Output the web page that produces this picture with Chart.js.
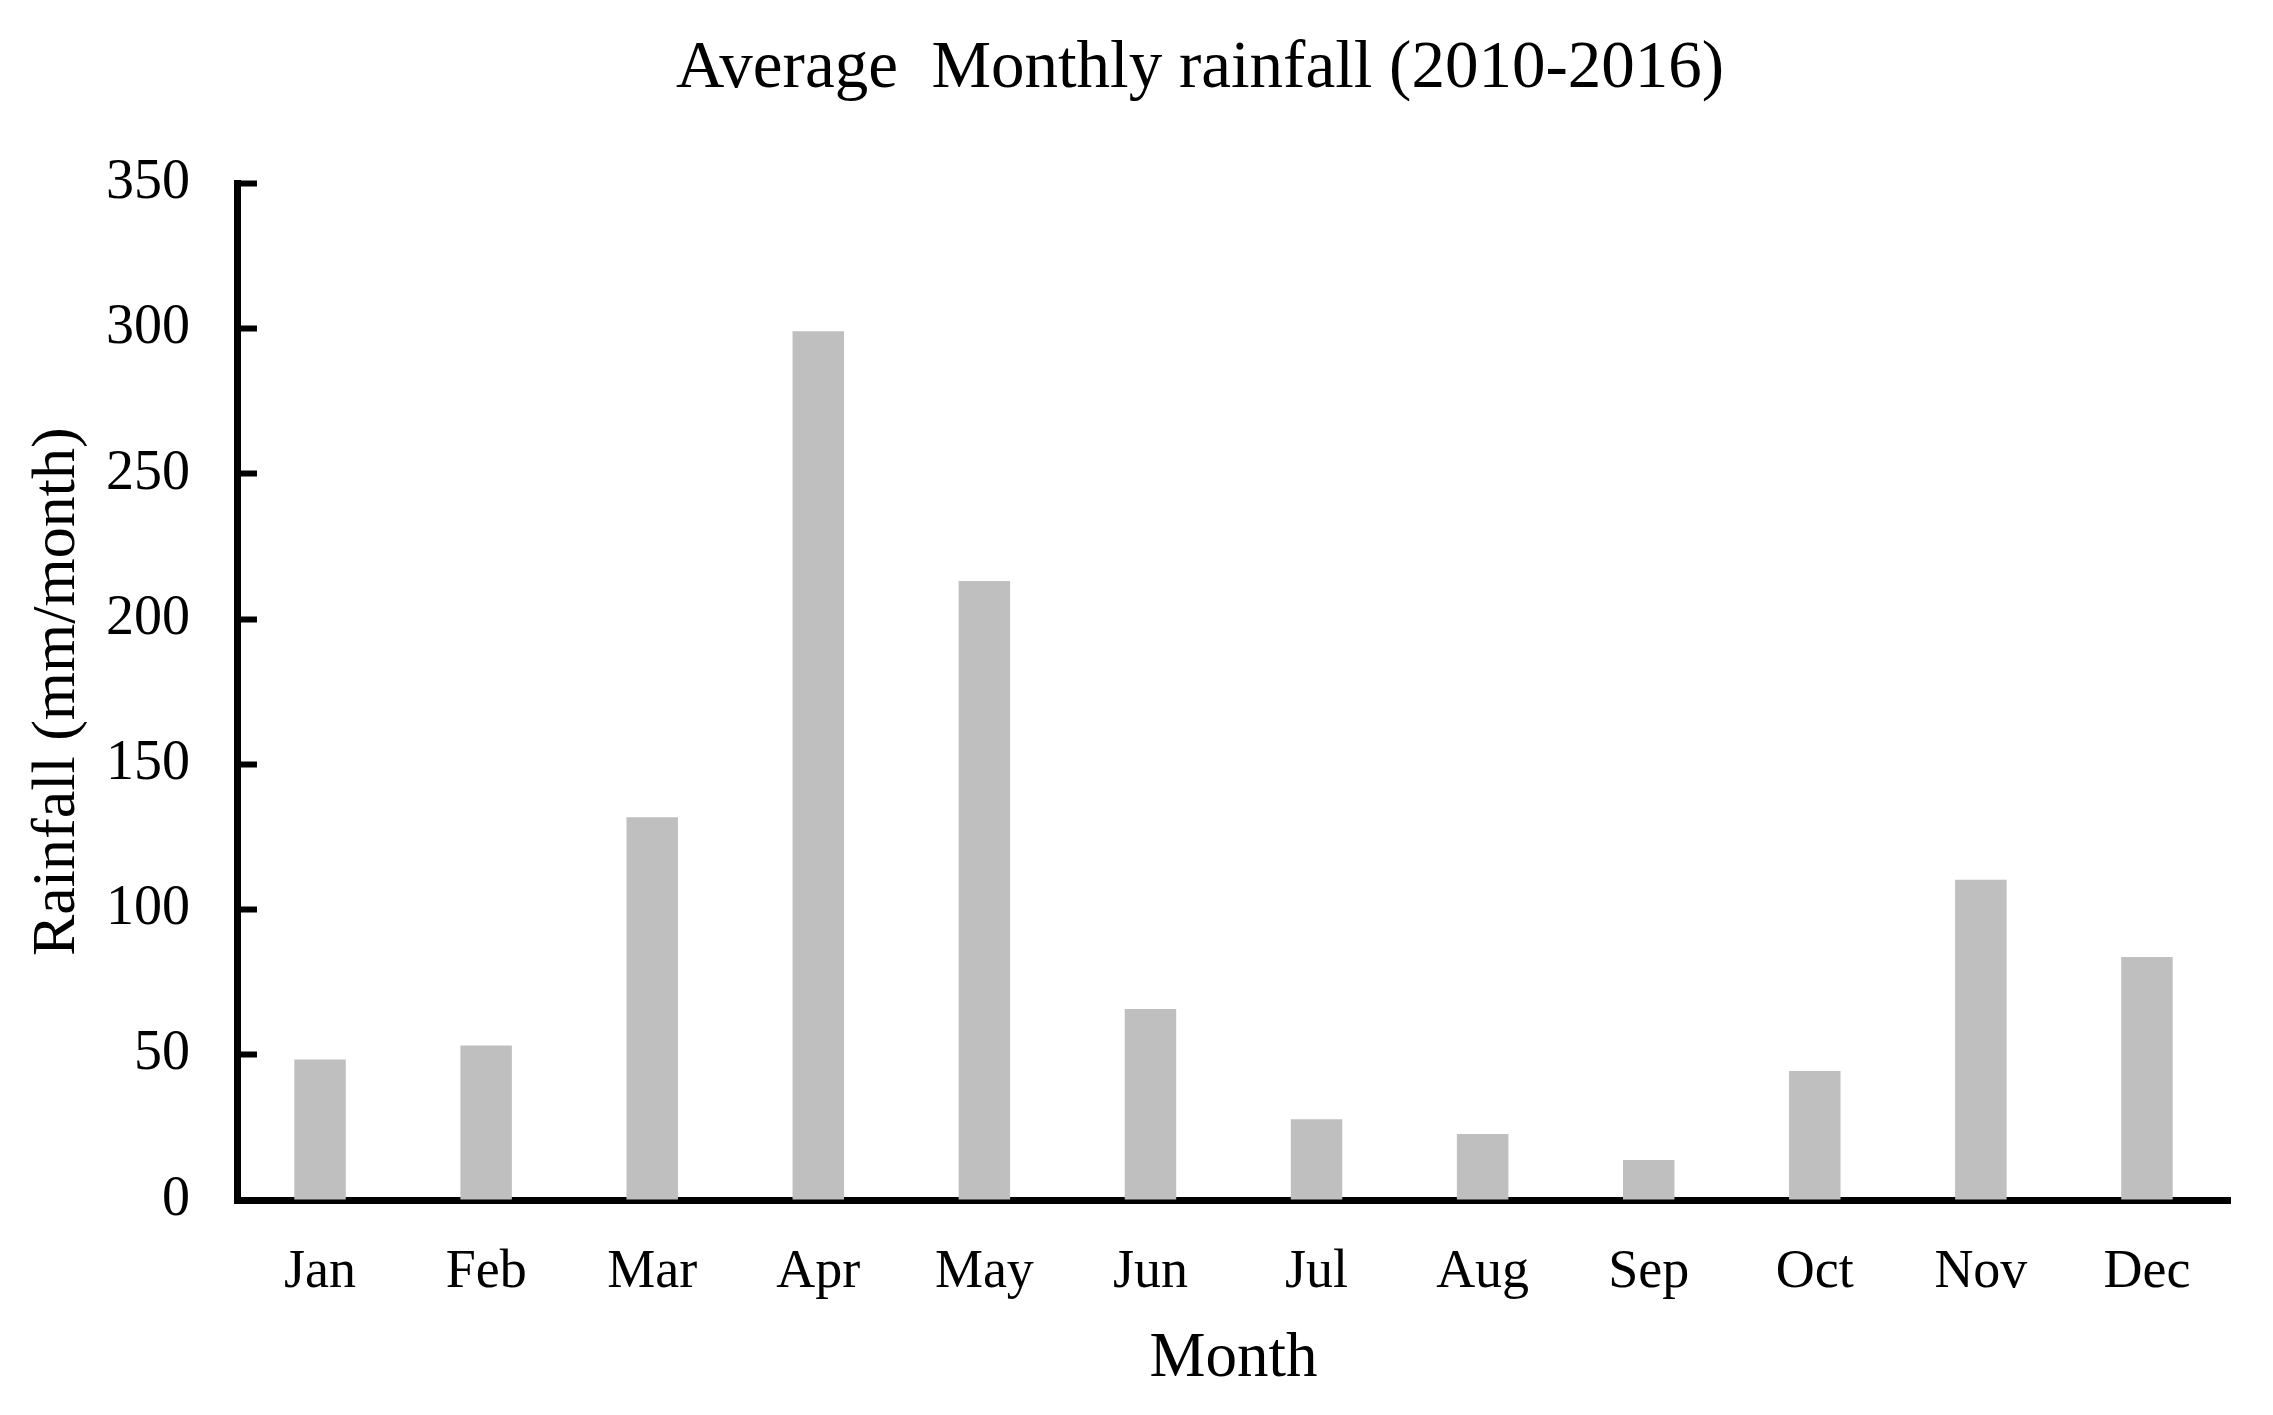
<!DOCTYPE html>
<html>
<head>
<meta charset="utf-8">
<script src="https://cdn.jsdelivr.net/npm/chart.js@4"></script>
<style>
    html, body { margin: 0; padding: 0; background: #fff; }
    #wrap { width: 2273px; height: 1415px; }
</style>
</head>
<body>
<div id="wrap"><canvas id="rainfallChart"></canvas></div>
<script>
const months = ['Jan', 'Feb', 'Mar', 'Apr', 'May', 'Jun', 'Jul', 'Aug', 'Sep', 'Oct', 'Nov', 'Dec'];
const rainfall = [48.4, 53.2, 131.8, 299.1, 213.1, 65.8, 27.8, 22.7, 13.8, 44.4, 110.3, 83.7];
const yTicks = [0, 50, 100, 150, 200, 250, 300, 350];

const serif = 'Liberation Serif, Times New Roman, serif';

document.addEventListener('DOMContentLoaded', function() {
    const ctx = document.getElementById('rainfallChart').getContext('2d');

    new Chart(ctx, {
        type: 'bar',
        data: {
            labels: months,
            datasets: [{
                label: 'Rainfall',
                data: rainfall,
                backgroundColor: '#bfbfbf',
                borderWidth: 0,
                categoryPercentage: 1,
                barPercentage: 0.31
            }]
        },
        options: {
            responsive: true,
            maintainAspectRatio: false,
            animation: false,
            devicePixelRatio: 1,
            layout: {
                padding: { left: 0, right: 43, top: 0, bottom: 0 }
            },
            plugins: {
                legend: { display: false },
                tooltip: { enabled: false },
                title: {
                    display: true,
                    fullSize: false,
                    // trailing spaces nudge the centred title a little left, as in the original
                    text: 'Average  Monthly rainfall (2010-2016)    ',
                    color: '#000',
                    font: { family: serif, size: 67, weight: 'normal' },
                    padding: { top: 29, bottom: 74 }
                }
            },
            scales: {
                x: {
                    grid: { display: false, drawTicks: false },
                    border: { display: true, color: '#000', width: 7 },
                    ticks: {
                        color: '#000',
                        font: { family: serif, size: 54 },
                        padding: 40
                    },
                    title: {
                        display: true,
                        text: 'Month',
                        color: '#000',
                        font: { family: serif, size: 63 },
                        padding: { top: 16, bottom: 18 }
                    },
                    afterFit: function(scale) { scale.height = 215; }
                },
                y: {
                    min: 0,
                    max: 350,
                    afterBuildTicks: function(scale) {
                        scale.ticks = yTicks.map(v => ({ value: v }));
                    },
                    grid: {
                        display: true,
                        drawOnChartArea: false,
                        drawTicks: true,
                        tickLength: -20,
                        tickWidth: 6,
                        tickColor: '#000'
                    },
                    border: { display: true, color: '#000', width: 7 },
                    ticks: {
                        color: '#000',
                        font: { family: serif, size: 56 },
                        padding: 67
                    },
                    title: {
                        display: true,
                        text: 'Rainfall (mm/month)',
                        color: '#000',
                        font: { family: serif, size: 62 },
                        padding: { top: 21, bottom: 21 }
                    },
                    afterFit: function(scale) { scale.width = 237; }
                }
            }
        }
    });
});
</script>
</body>
</html>
